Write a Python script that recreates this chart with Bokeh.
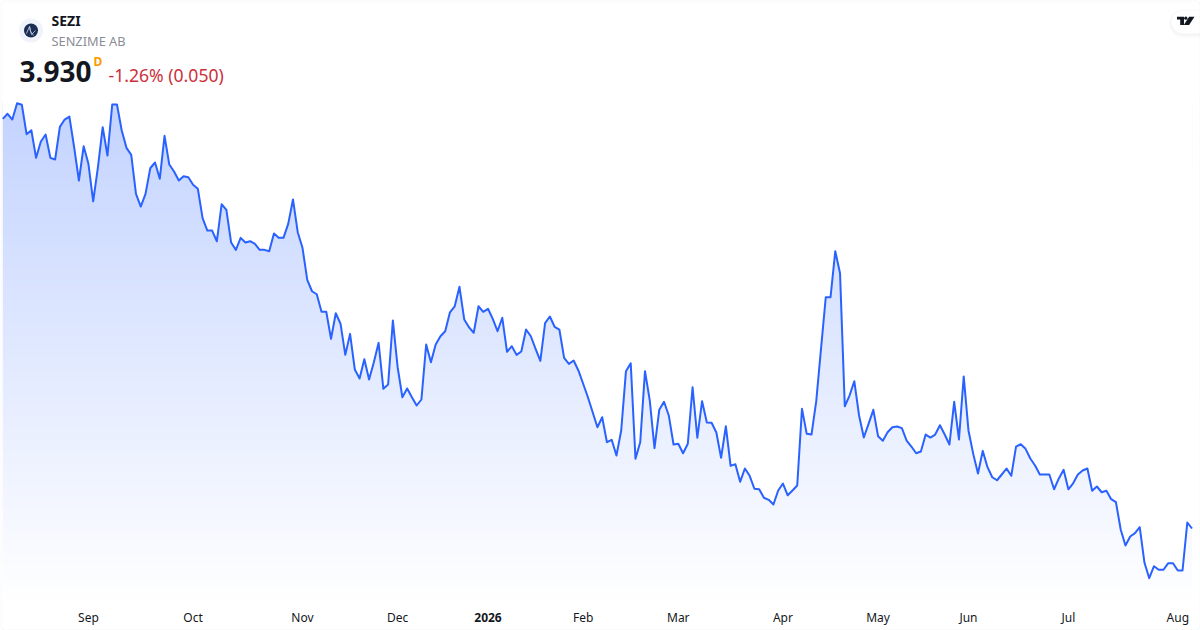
from bokeh.plotting import figure
from bokeh.models import Label, FixedTicker, BoxAnnotation, Range1d, LinearAxis
from bokeh.embed import file_html
from bokeh.resources import INLINE

symbol = "SEZI"
company = "SENZIME AB"
last_price = "3.930"
interval = "D"
change_text = "-1.26% (0.050)"

prices = [
 7.344,7.386,7.338,7.474,7.461,7.216,7.249,7.019,7.155,7.213,
 7.019,7.005,7.277,7.338,7.363,7.107,6.83,7.116,6.969,6.657,
 6.941,7.274,7.038,7.463,7.463,7.247,7.102,7.044,6.719,6.613,
 6.719,6.932,6.98,6.844,7.202,6.963,6.905,6.83,6.866,6.857,
 6.794,6.761,6.516,6.413,6.413,6.324,6.632,6.586,6.313,6.252,
 6.352,6.313,6.324,6.302,6.252,6.252,6.241,6.388,6.352,6.352,
 6.469,6.672,6.399,6.269,6.002,5.907,5.882,5.736,5.736,5.511,
 5.724,5.636,5.377,5.552,5.255,5.18,5.341,5.172,5.316,5.477,
 5.094,5.13,5.663,5.274,5.024,5.097,5.024,4.955,5.005,5.463,
 5.316,5.463,5.532,5.574,5.732,5.782,5.944,5.672,5.607,5.561,
 5.782,5.736,5.761,5.677,5.574,5.686,5.402,5.449,5.377,5.405,
 5.588,5.532,5.427,5.327,5.641,5.697,5.611,5.588,5.352,5.302,
 5.33,5.247,5.136,5.024,4.899,4.774,4.857,4.649,4.669,4.538,
 4.747,5.241,5.307,4.511,4.649,5.241,4.997,4.599,4.919,4.986,
 4.872,4.63,4.636,4.557,4.636,5.107,4.686,4.991,4.813,4.811,
 4.73,4.519,4.782,4.452,4.466,4.319,4.43,4.369,4.261,4.257,
 4.186,4.169,4.13,4.247,4.305,4.207,4.247,4.288,4.927,4.719,
 4.713,4.991,5.427,5.857,5.857,6.241,6.057,4.949,5.038,5.157,
 4.872,4.688,4.802,4.919,4.699,4.661,4.732,4.774,4.78,4.766,
 4.663,4.613,4.557,4.572,4.713,4.688,4.713,4.791,4.713,4.63,
 4.986,4.672,5.197,4.747,4.552,4.388,4.577,4.441,4.357,4.332,
 4.38,4.43,4.369,4.613,4.632,4.594,4.513,4.455,4.38,4.38,
 4.38,4.257,4.347,4.419,4.257,4.307,4.38,4.413,4.43,4.244,
 4.28,4.232,4.244,4.174,4.149,3.922,3.788,3.863,3.891,3.941,
 3.644,3.516,3.616,3.586,3.586,3.641,3.641,3.58,3.58,3.98,3.93,
]
tick_positions = [18, 40, 63, 83, 102, 122, 142, 164, 184, 203, 224, 247]
tick_labels = ["Sep", "Oct", "Nov", "Dec", "2026", "Feb", "Mar", "Apr", "May", "Jun", "Jul", "Aug"]
bold_label = "2026"

W, H = 1200, 630
AREA_BOTTOM_PY = 604
STEP, X0 = 4.757, 2.3
PX_PER_UNIT = 120.0
Y_ZERO = 8.33


def xd(px):
    return (px - X0) / STEP


def yd(py):
    return Y_ZERO - py / PX_PER_UNIT


p = figure(width=W, height=H, output_backend="svg", toolbar_location=None,
           x_range=Range1d(xd(0), xd(W)), y_range=Range1d(yd(H), yd(0)),
           min_border=0, background_fill_color="white",
           border_fill_color="white", outline_line_color=None, y_axis_location=None)
p.grid.visible = False


def style_axis(ax, ticks, labels, weight, loc_py):
    ax.ticker = FixedTicker(ticks=ticks)
    ax.major_label_overrides = dict(zip(ticks, labels))
    ax.axis_line_color = None
    ax.major_tick_line_color = None
    ax.minor_tick_line_color = None
    ax.major_label_text_font = "Noto Sans"
    ax.major_label_text_font_size = "12px"
    ax.major_label_text_font_style = weight
    ax.major_label_text_color = "#131722"
    ax.major_label_standoff = 5
    ax.fixed_location = yd(loc_py)


plain = [(t, l) for t, l in zip(tick_positions, tick_labels) if l != bold_label]
style_axis(p.xaxis[0], [t for t, _ in plain], [l for _, l in plain], "normal", 597)
bold_axis = LinearAxis()
style_axis(bold_axis, [tick_positions[tick_labels.index(bold_label)]], [bold_label], "bold", 601)
p.add_layout(bold_axis, "below")

# gradient under the line: thin overlapping bands, then white above the line
n = len(prices)
xs = list(range(n))
top_v = max(prices)
bottom_v = yd(AREA_BOTTOM_PY)
bands = 167
dv = (top_v - bottom_v) / bands
ALPHA_TOP = 0.28
for b in range(bands):
    a = ALPHA_TOP * (b + 0.5) / bands
    col = "#%02x%02x%02x" % (round(255 - (255 - 41) * a), round(255 - (255 - 98) * a), 255)
    p.quad(left=0, right=n - 1, bottom=bottom_v + b * dv, top=bottom_v + (b + 1.5) * dv,
           fill_color=col, line_color=None)
p.varea(x=xs, y1=prices, y2=[top_v + 0.02] * n, fill_color="white")
p.line(xs, prices, line_color="#2962FF", line_width=2, line_join="round")


def txt(x, y, s, size, color, style="normal", align="left"):
    p.add_layout(Label(x=x, y=y, x_units="canvas", y_units="canvas", text=s, text_font="Noto Sans",
                       text_font_size=size, text_color=color, text_font_style=style,
                       text_align=align, text_baseline="middle"))


txt(51, 19.5, symbol, "14px", "#131722", "bold")
txt(51, 40, company, "12.8px", "#8a8d97")
txt(19, 70.5, last_price, "28px", "#131722", "bold")
txt(93, 61, interval, "12px", "#ff9800", "bold")
txt(108, 74, change_text, "17.6px", "#cc2f3c")

# logo
p.scatter([xd(30.5)], [yd(30)], size=24, marker="circle", fill_color="#f0f3fa", line_color=None)
p.scatter([xd(30.5)], [yd(30)], size=14, marker="circle", fill_color="#1b2f55", line_color=None)
p.multi_line([[xd(26), xd(29), xd(31), xd(35)], [xd(29), xd(30), xd(33)]],
             [[yd(33), yd(26), yd(34), yd(30)], [yd(26), yd(31), yd(35)]],
             line_color="#c9d2e3", line_width=0.8)

# TradingView badge: soft shadow layers, white pill, mark
for col, size, cy, top, bot in [("#fafafb", 28, 23, 9, 37), ("#f3f4f6", 25, 22.5, 10, 35), ("#ffffff", 23, 21.5, 10, 33)]:
    p.scatter([xd(1182.5)], [yd(cy)], size=size, marker="circle", fill_color=col, line_color=None)
    p.quad(left=[xd(1182.5)], right=[xd(1200)], top=[yd(top)], bottom=[yd(bot)], fill_color=col, line_color=None)
p.patch([xd(v) for v in (1176.5, 1183.5, 1183.5, 1179.7, 1179.7, 1176.5)],
        [yd(v) for v in (16.2, 16.2, 24.5, 24.5, 19, 19)], fill_color="#131722", line_color=None)
p.scatter([xd(1185.3)], [yd(17.7)], size=3.2, marker="circle", fill_color="#131722", line_color=None)
p.patch([xd(v) for v in (1188.6, 1194, 1188.6, 1183.3)], [yd(v) for v in (16.2, 16.2, 24.5, 24.5)],
        fill_color="#131722", line_color=None)

# card border
p.add_layout(BoxAnnotation(left=xd(0.5), right=xd(1199.5), top=yd(0.5), bottom=yd(629.5), fill_alpha=0,
                           line_color="#e0e3eb", line_width=1, border_radius=4, level="overlay"))

open("out.html", "w").write(file_html(p, INLINE))
